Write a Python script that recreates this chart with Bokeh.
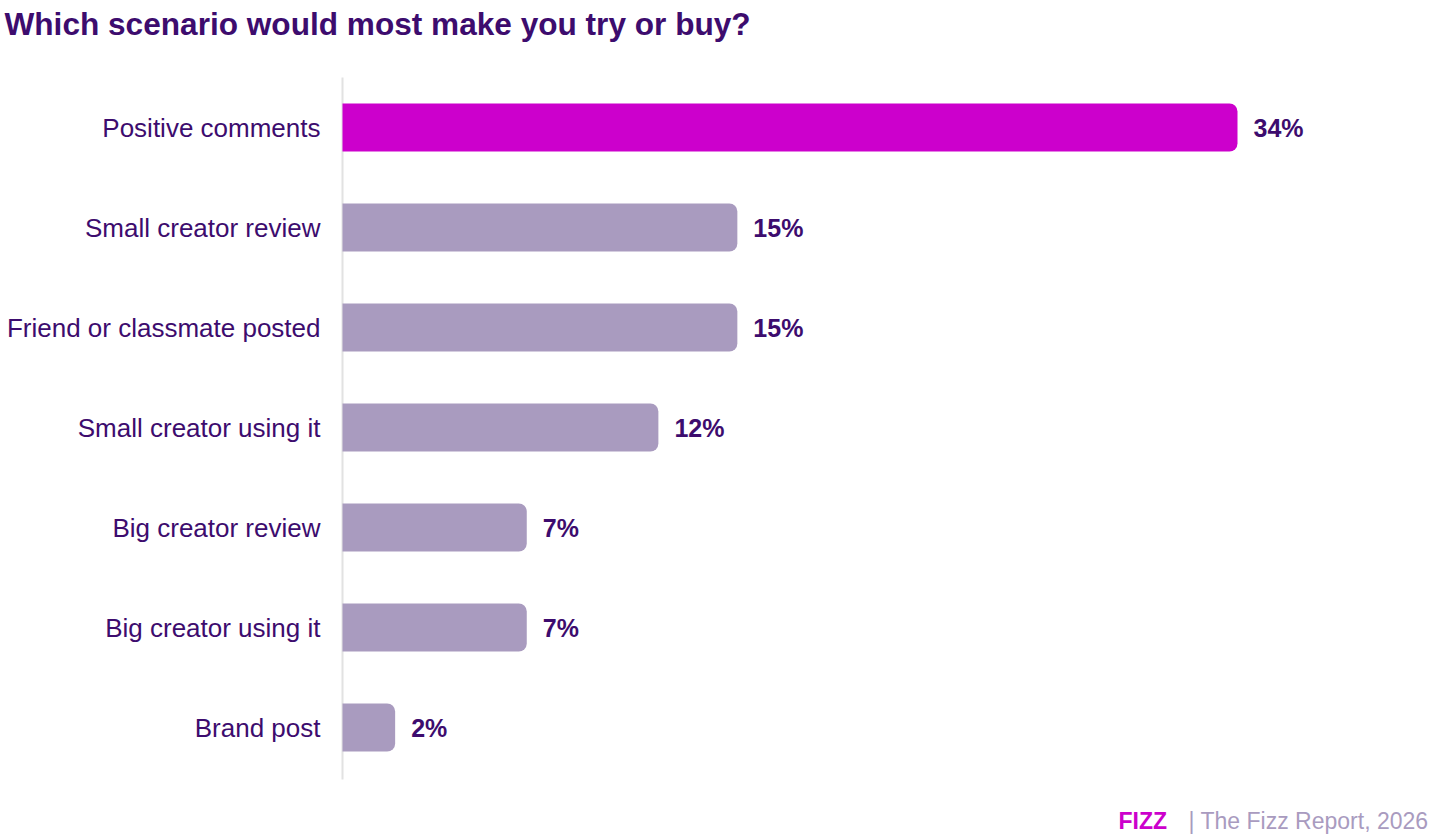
from bokeh.plotting import figure
from bokeh.models import ColumnDataSource, Label, Range1d
from bokeh.core.properties import value
from bokeh.embed import file_html
from bokeh.resources import INLINE

categories = ["Positive comments", "Small creator review", "Friend or classmate posted",
              "Small creator using it", "Big creator review", "Big creator using it", "Brand post"]
values = [34, 15, 15, 12, 7, 7, 2]
labels = ["34%", "15%", "15%", "12%", "7%", "7%", "2%"]
highlight = ["Positive comments"]

TEXT = "#3D0C6E"
MAGENTA = "#CC00CC"
GRAY = "#A99BBF"
FONT = "Liberation Sans"

n = len(categories)
ypos = [n - 1 - i for i in range(n)]
colors = [MAGENTA if c in highlight else GRAY for c in categories]
src = ColumnDataSource(dict(cat=categories, y=ypos, val=values, lab=labels, color=colors,
                            zero=[0] * n))

W, H = 1440, 836
ppu_x = 895 / 34.0
x_start = -342 / ppu_x
x_end = (W - 342) / ppu_x
y_top = (n - 0.5) + 77 / 100.0
y_bot = -0.5 - 59 / 100.0

p = figure(width=W, height=H, output_backend="svg", toolbar_location=None,
           x_range=Range1d(x_start, x_end), y_range=Range1d(y_bot, y_top),
           x_axis_location=None, y_axis_location=None,
           min_border=0, min_border_left=0, min_border_right=0,
           min_border_top=0, min_border_bottom=0)
p.frame_width = W
p.frame_height = H
p.outline_line_color = None
p.background_fill_color = "white"
p.border_fill_color = "white"
p.xgrid.visible = False
p.ygrid.visible = False

p.segment(x0=[0], x1=[0], y0=[-0.52], y1=[n - 0.5], line_color="#E2E2E2", line_width=2)

p.hbar(y="y", right="val", left=0, height=0.48, source=src, color="color",
       line_color=None, border_radius=(0, 8, 8, 0))

p.text(x="zero", y="y", text="cat", source=src, x_offset=-22,
       text_baseline="middle", text_align="right", text_font=value(FONT),
       text_font_size="26px", text_color=TEXT)

p.text(x="val", y="y", text="lab", source=src, x_offset=16,
       text_baseline="middle", text_align="left", text_font=value(FONT),
       text_font_size="25px", text_font_style="bold", text_color=TEXT)

title = Label(x=4, y=H - 23, x_units="screen", y_units="screen",
              text="Which scenario would most make you try or buy?",
              text_font=FONT, text_font_size="31.6px", text_font_style="bold",
              text_color=TEXT, text_baseline="alphabetic")
p.add_layout(title)

foot1 = Label(x=1118, y=16, x_units="screen", y_units="screen",
              text="FIZZ", text_font=FONT, text_font_size="23px", text_font_style="bold",
              text_color=MAGENTA, text_baseline="alphabetic")
foot2 = Label(x=1428, y=16, x_units="screen", y_units="screen",
              text="| The Fizz Report, 2026", text_font=FONT, text_font_size="23px",
              text_color=GRAY, text_baseline="alphabetic", text_align="right")
p.add_layout(foot1)
p.add_layout(foot2)

open("out.html", "w").write(file_html(p, INLINE))
